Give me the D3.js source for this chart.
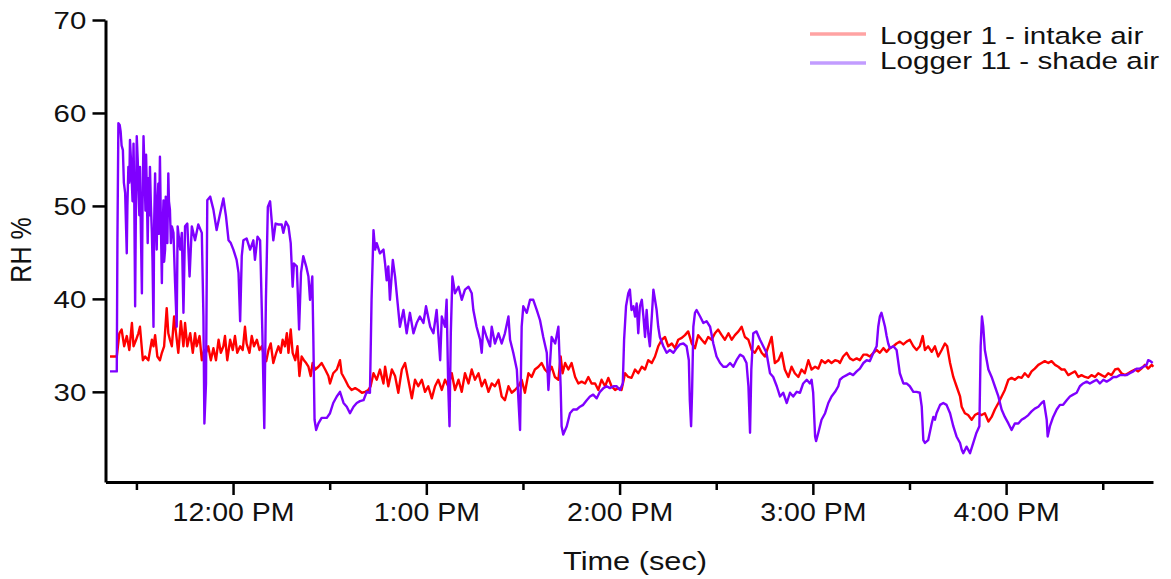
<!DOCTYPE html>
<html>
<head>
<meta charset="utf-8">
<script src="https://cdn.jsdelivr.net/npm/d3@7"></script>
<style>
body { margin: 0; background: #fff; }
text { font-family: "Liberation Sans", Arial, sans-serif; fill: #111; }
</style>
</head>
<body>
<svg id="chart" width="1171" height="579"></svg>
<script>
// [minutes after 11:00 AM, RH %]
var intakeAir = [
  [21.8,33.8],[23.9,33.8],[24.7,36.3],[25.4,36.7],[26.2,34.9],[27.0,36.0],[27.8,34.5],[28.6,37.4],[29.1,34.9],[29.9,35.6],
  [30.6,36.3],[31.1,37.0],[32.0,33.4],[32.7,33.8],[33.7,33.4],[34.8,35.6],[35.3,34.9],[35.8,36.1],[36.5,33.8],[37.3,33.4],
  [37.9,34.2],[38.6,34.9],[39.4,39.0],[39.9,36.3],[40.4,35.6],[41.0,34.9],[41.7,38.1],[42.3,36.3],[43.0,34.2],[43.8,37.6],
  [44.6,34.9],[45.1,37.4],[45.8,34.9],[46.7,36.3],[47.5,34.2],[48.2,36.3],[48.7,34.9],[49.6,36.0],[50.3,33.4],[51.0,34.5],
  [51.6,34.2],[52.3,34.9],[53.1,33.4],[53.9,34.7],[54.7,33.4],[55.5,35.6],[56.2,34.2],[57.0,34.9],[57.5,36.0],[58.2,33.4],
  [59.1,35.6],[59.9,34.5],[60.6,36.0],[61.3,34.2],[62.2,34.9],[63.0,34.5],[63.7,37.0],[64.2,35.2],[65.1,34.2],[65.8,36.0],
  [66.5,34.9],[67.4,35.6],[68.2,34.5],[68.9,34.9],[69.4,34.2],[70.3,33.3],[71.0,34.5],[71.7,35.2],[72.5,33.1],[73.4,34.2],
  [74.1,34.9],[74.8,34.2],[75.4,35.6],[76.1,34.9],[76.7,36.3],[77.2,34.2],[77.9,36.7],[78.5,34.2],[79.3,33.4],[80.0,34.9],
  [80.6,31.7],[81.3,33.8],[82.0,33.4],[82.7,33.1],[83.4,32.7],[84.1,31.7],[84.7,33.1],[85.5,32.4],[86.5,32.7],[87.5,33.1],
  [88.6,32.4],[89.6,31.7],[90.1,30.9],[91.1,32.0],[92.2,32.4],[93.2,33.4],[93.7,32.0],[94.8,31.3],[95.8,30.6],[96.8,30.2],
  [97.9,30.4],[98.9,30.2],[100.0,29.9],[101.0,30.0],[102.0,30.2],[102.7,30.6],[103.6,32.0],[104.6,31.3],[105.6,32.4],[106.7,30.9],
  [107.2,32.7],[108.2,30.6],[109.3,32.4],[110.3,31.7],[111.3,29.9],[112.4,32.4],[113.4,33.1],[114.4,31.3],[115.5,29.3],[116.5,31.3],
  [117.5,30.6],[118.6,31.3],[119.6,30.0],[120.6,30.6],[121.7,29.3],[122.7,30.6],[123.7,31.3],[124.8,30.2],[125.8,31.3],[126.8,30.6],
  [127.9,32.0],[128.9,30.2],[130.0,31.3],[131.0,30.0],[132.0,32.0],[133.1,30.9],[134.1,32.4],[135.1,31.3],[136.2,32.0],[137.2,30.6],
  [138.2,31.3],[139.3,30.0],[140.3,30.9],[141.3,30.6],[142.4,31.3],[143.4,29.5],[144.4,29.1],[145.5,30.6],[146.5,29.9],[147.5,30.2],
  [148.6,30.6],[149.6,31.3],[150.6,29.9],[151.7,32.0],[152.7,31.6],[153.7,32.4],[154.8,32.7],[155.8,33.1],[156.8,32.4],[157.9,32.0],
  [158.9,32.7],[159.9,31.6],[161.0,31.3],[161.7,33.8],[162.3,32.0],[163.1,33.1],[164.1,32.4],[165.1,33.1],[166.2,31.6],[167.2,30.9],
  [168.2,31.1],[169.3,30.9],[170.3,31.6],[171.3,30.9],[172.4,30.9],[173.4,30.2],[174.4,31.3],[175.5,30.6],[176.5,31.5],[177.5,30.6],
  [178.6,30.2],[179.6,30.4],[180.6,30.2],[181.7,32.0],[182.7,31.6],[183.7,31.5],[184.8,32.4],[185.8,32.0],[186.9,32.7],[187.9,32.4],
  [188.9,33.4],[190.0,33.1],[191.0,33.8],[192.0,34.9],[193.1,35.6],[194.1,35.9],[195.1,34.9],[196.2,35.2],[197.2,34.7],[198.2,35.6],
  [199.3,35.8],[200.3,36.1],[201.3,36.5],[202.4,35.2],[203.4,34.7],[204.4,36.1],[205.5,35.6],[206.5,35.2],[207.5,35.9],[208.6,35.6],
  [209.6,36.3],[210.6,36.7],[211.7,36.1],[212.7,35.6],[213.8,36.3],[214.8,35.6],[215.8,36.1],[216.9,36.5],[217.9,37.0],[218.9,35.9],
  [220.0,35.6],[221.0,34.5],[222.0,34.2],[223.1,34.9],[224.1,34.2],[225.1,33.8],[226.2,34.9],[227.2,35.9],[228.2,33.1],[229.3,33.4],
  [230.3,34.2],[231.3,32.4],[232.4,31.6],[233.4,32.7],[234.4,32.0],[235.5,31.6],[236.5,32.4],[237.5,32.0],[238.6,33.4],[239.6,32.4],
  [240.7,32.7],[241.7,32.5],[242.7,33.4],[243.8,33.1],[244.8,33.4],[245.8,33.1],[246.9,33.4],[247.9,33.3],[248.4,33.1],[249.4,33.8],
  [250.5,34.2],[251.5,33.6],[252.5,33.4],[253.6,33.6],[254.6,33.4],[255.7,34.0],[256.7,34.0],[257.7,33.8],[258.8,34.2],[259.8,34.5],
  [260.8,34.2],[261.9,34.7],[262.9,34.3],[263.9,34.7],[265.0,34.9],[266.0,35.2],[267.0,35.4],[268.1,35.1],[269.1,35.4],[270.1,35.6],
  [271.2,34.9],[272.2,34.5],[273.2,34.9],[274.1,36.0],[274.8,34.5],[275.8,34.9],[276.9,34.3],[277.9,34.9],[278.9,33.8],[280.0,34.5],
  [281.0,35.2],[281.7,34.9],[282.6,33.1],[283.6,31.6],[284.6,30.6],[285.7,29.5],[286.2,28.4],[287.2,27.7],[288.2,27.5],[289.3,27.0],
  [290.3,27.5],[291.3,27.7],[292.4,27.5],[293.4,27.7],[294.5,26.8],[295.5,27.3],[296.5,28.1],[297.6,28.8],[298.6,29.5],[299.6,30.2],
  [300.7,31.3],[301.7,31.5],[302.7,31.3],[303.8,31.6],[304.8,31.5],[305.8,32.0],[306.9,31.6],[307.9,32.2],[308.9,32.5],[310.0,32.9],
  [311.0,33.1],[312.0,33.3],[313.1,33.1],[314.1,33.3],[315.2,32.9],[316.2,32.7],[317.2,32.4],[318.2,32.4],[319.3,31.8],[320.3,32.0],
  [321.4,32.2],[322.4,31.6],[323.4,31.8],[324.5,31.6],[325.5,31.5],[326.5,31.8],[327.6,31.6],[328.6,32.0],[329.6,31.8],[330.7,31.6],
  [331.7,32.0],[332.7,31.8],[333.8,32.4],[334.8,32.5],[335.8,32.0],[336.9,31.8],[337.9,32.0],[338.9,32.2],[340.0,32.4],[341.0,32.2],
  [342.0,32.5],[343.1,32.9],[344.1,32.5],[345.2,32.9],[345.7,32.7]
];

var shadeAir = [
  [21.8,32.2],[23.9,32.2],[24.1,46.3],[24.4,58.9],[24.8,58.7],[25.1,58.0],[25.4,56.5],[25.8,56.0],[26.1,52.5],[26.5,51.4],
  [26.8,47.5],[27.0,44.9],[27.2,50.0],[27.5,54.2],[27.8,52.5],[28.0,57.1],[28.3,55.0],[28.5,53.2],[28.8,50.5],[29.1,56.7],
  [29.3,52.0],[29.6,39.2],[29.8,48.0],[30.1,57.5],[30.4,55.0],[30.6,52.4],[30.9,49.0],[31.1,54.2],[31.4,47.0],[31.7,40.6],
  [31.9,50.0],[32.2,57.5],[32.5,54.0],[32.8,49.5],[33.0,55.5],[33.2,52.1],[33.5,46.0],[33.8,53.0],[34.0,49.0],[34.2,54.2],
  [34.5,50.0],[34.8,47.1],[35.0,44.0],[35.3,37.0],[35.5,48.0],[35.8,53.5],[36.0,48.5],[36.3,45.3],[36.5,50.0],[36.8,52.4],
  [37.0,47.0],[37.3,55.3],[37.6,48.0],[37.9,41.7],[38.1,47.0],[38.4,50.6],[38.6,44.0],[38.9,45.3],[39.1,51.0],[39.4,49.6],
  [39.6,46.0],[39.9,53.5],[40.1,50.5],[40.4,49.6],[40.7,46.0],[41.0,47.8],[41.5,47.1],[42.0,41.7],[42.5,37.0],[42.8,47.8],
  [43.6,45.3],[44.1,47.1],[44.6,38.5],[45.1,47.8],[45.8,48.1],[46.5,42.4],[47.2,47.8],[48.2,46.3],[49.2,48.0],[50.3,47.1],
  [50.8,38.1],[51.1,26.6],[51.6,30.9],[52.0,50.6],[52.9,51.0],[53.9,49.6],[54.9,47.4],[55.8,48.9],[57.0,50.8],[57.8,48.9],
  [58.6,46.3],[59.3,46.0],[60.1,45.3],[61.1,44.2],[61.7,42.8],[62.2,37.6],[62.7,44.6],[63.2,46.3],[64.2,46.5],[65.3,45.3],
  [66.3,46.3],[66.8,44.2],[67.6,46.7],[68.4,46.3],[69.1,36.3],[69.7,26.1],[70.2,39.9],[70.8,49.9],[71.5,50.5],[72.5,46.3],
  [73.2,48.1],[74.1,48.0],[75.1,48.0],[75.6,47.1],[76.4,48.3],[77.2,47.8],[77.9,46.0],[78.5,41.3],[78.9,43.8],[79.8,43.5],
  [80.5,36.7],[81.1,42.8],[81.8,44.6],[82.7,43.5],[83.4,42.4],[83.9,39.9],[84.6,42.4],[84.9,36.3],[85.3,27.0],[85.8,25.9],
  [86.5,26.6],[87.5,27.2],[89.1,27.2],[90.1,27.7],[91.1,28.8],[92.2,29.5],[93.2,30.0],[94.3,28.8],[95.3,28.4],[96.3,27.7],
  [97.4,28.4],[98.4,28.8],[99.4,29.0],[100.5,29.1],[101.5,30.0],[102.5,29.9],[103.0,39.9],[103.6,47.4],[104.1,45.3],[104.6,46.0],
  [105.6,44.9],[106.7,45.3],[107.2,43.8],[107.7,42.0],[108.2,43.5],[108.7,39.9],[109.6,44.2],[110.3,42.4],[111.3,38.8],[111.8,37.0],
  [112.9,38.8],[113.9,36.3],[114.9,38.5],[116.0,36.3],[117.0,37.4],[118.0,38.1],[119.1,37.4],[119.9,39.2],[121.2,37.0],[122.2,36.3],
  [123.2,38.8],[124.3,33.4],[124.8,38.1],[125.8,37.0],[126.3,39.9],[126.8,30.6],[127.2,26.3],[127.6,36.3],[128.1,42.4],[128.9,40.6],
  [130.0,41.3],[131.0,39.9],[132.0,41.0],[133.1,41.3],[134.1,40.6],[134.6,38.8],[135.6,37.0],[136.7,35.6],[137.2,34.2],[137.7,37.0],
  [138.7,35.9],[139.8,34.9],[140.3,37.0],[141.3,35.2],[142.4,36.3],[143.4,35.2],[144.4,36.3],[145.5,38.1],[146.0,35.6],[147.0,34.2],
  [148.1,32.4],[148.6,29.1],[149.1,25.9],[149.6,37.0],[150.1,39.2],[151.2,38.5],[152.2,39.9],[153.2,39.9],[154.3,38.8],[155.3,37.7],
  [156.3,35.9],[157.4,34.2],[157.9,30.2],[158.9,35.9],[160.0,35.2],[161.0,37.0],[161.7,30.6],[162.0,26.3],[162.5,25.4],[163.6,26.3],
  [164.6,27.7],[165.6,28.1],[166.7,28.1],[167.7,28.4],[168.7,28.6],[169.8,29.1],[170.8,29.5],[171.8,29.7],[172.9,29.3],[173.9,30.0],
  [175.0,30.4],[176.0,30.6],[177.0,30.4],[178.1,30.6],[179.1,30.6],[180.1,30.2],[181.0,30.9],[181.4,35.6],[182.0,39.2],[182.7,40.6],
  [183.2,41.0],[183.7,38.8],[184.3,39.2],[184.8,38.1],[185.3,39.5],[185.8,36.3],[186.3,39.2],[186.9,39.9],[187.4,38.1],[187.9,35.9],
  [188.4,38.8],[188.9,36.3],[189.4,34.9],[190.0,38.1],[190.5,41.0],[191.0,39.9],[191.5,38.8],[192.0,37.0],[192.5,35.9],[193.6,34.9],
  [194.6,34.2],[195.6,34.5],[196.7,34.2],[197.7,34.7],[198.7,35.1],[199.8,35.2],[200.8,34.9],[201.5,33.4],[201.8,29.1],[202.2,26.3],
  [202.5,29.9],[202.9,37.0],[203.4,38.5],[203.9,38.8],[205.0,38.1],[206.0,37.4],[207.0,37.6],[208.1,37.0],[209.1,35.2],[210.1,33.8],
  [211.2,33.1],[212.2,32.7],[213.2,32.7],[214.3,33.1],[215.3,32.7],[216.3,33.4],[217.4,34.0],[218.4,33.8],[219.4,33.1],[220.0,30.6],
  [220.5,25.6],[220.9,32.4],[221.5,36.3],[222.5,36.5],[223.6,35.6],[224.6,34.9],[225.6,34.2],[226.7,32.0],[227.7,31.6],[228.8,30.6],
  [229.8,29.5],[230.8,29.9],[231.9,28.8],[232.9,29.9],[233.9,29.5],[235.0,30.0],[236.0,29.9],[237.0,30.9],[238.1,31.3],[239.1,30.9],
  [239.6,31.3],[240.1,29.9],[240.7,25.2],[241.0,24.7],[241.7,25.6],[242.7,27.0],[243.8,27.7],[244.8,28.8],[245.8,29.5],[246.9,30.0],
  [247.9,30.6],[248.4,31.3],[249.4,31.6],[250.5,31.8],[251.5,32.0],[252.5,31.8],[253.6,32.2],[254.6,32.5],[255.7,33.1],[256.7,33.4],
  [257.7,33.3],[258.8,34.2],[259.8,34.9],[260.3,37.0],[260.8,38.1],[261.3,38.5],[261.9,37.7],[262.4,37.0],[262.9,36.0],[263.4,35.2],
  [263.9,34.7],[265.0,34.9],[266.0,34.5],[267.0,32.0],[268.1,30.9],[269.1,30.9],[270.1,30.6],[271.2,30.0],[272.2,30.0],[273.2,29.9],
  [273.8,28.4],[274.3,24.8],[274.8,24.5],[275.8,24.8],[276.9,26.6],[277.4,27.3],[277.9,27.0],[278.4,27.7],[279.5,28.6],[280.5,28.8],
  [281.5,28.6],[282.6,27.7],[283.6,26.3],[284.6,25.2],[285.7,24.5],[286.2,23.8],[286.7,23.4],[287.7,24.1],[288.8,23.4],[289.8,24.5],
  [290.8,25.6],[291.7,26.3],[292.1,34.9],[292.5,38.1],[292.9,37.0],[293.4,34.5],[294.5,32.4],[295.5,31.6],[296.5,30.6],[297.6,29.5],
  [298.6,28.1],[299.6,27.3],[300.7,26.6],[301.7,25.9],[302.7,26.6],[303.8,26.6],[304.8,27.0],[305.8,27.2],[306.9,27.5],[307.9,27.9],
  [308.9,28.2],[310.0,28.4],[311.0,28.8],[311.7,29.0],[312.6,27.0],[312.9,25.2],[313.6,26.3],[314.6,27.3],[315.7,28.1],[316.7,28.6],
  [317.7,28.6],[318.8,29.1],[319.8,29.5],[320.8,29.7],[321.9,29.9],[322.9,30.6],[323.9,30.9],[325.0,31.1],[326.0,30.9],[327.0,31.1],
  [328.1,31.3],[329.1,30.9],[330.2,31.3],[331.2,31.1],[332.2,31.3],[333.3,31.6],[334.3,31.6],[335.3,31.8],[336.4,31.8],[337.4,31.8],
  [338.4,32.0],[339.5,32.2],[340.5,32.5],[341.5,32.5],[342.6,32.7],[343.6,32.9],[344.1,33.4],[344.8,33.3],[345.5,33.1]
];

var seriesNames = ["Logger 1 - intake air", "Logger 11 - shade air"];
var rhTicks = [30, 40, 50, 60, 70];

// minutes after 11:00 -> Date
function at(m) {
    return new Date(2020, 0, 1, 11, 0, 0, Math.round(m * 60000));
}

var svg = d3.select("#chart");

var x = d3.scaleTime()
    .domain([at(20.4), at(345.6)])
    .range([105.5, 1153]);

var y = d3.scaleLinear()
    .domain([20.3, 70])
    .range([482, 20]);

var line = d3.line()
    .x(function(d) { return x(at(d[0])); })
    .y(function(d) { return y(d[1]); });

svg.append("path")
    .datum(intakeAir)
    .attr("d", line)
    .attr("fill", "none")
    .attr("stroke", "#ff0000")
    .attr("stroke-width", 2.4)
    .attr("stroke-linejoin", "round");

svg.append("path")
    .datum(shadeAir)
    .attr("d", line)
    .attr("fill", "none")
    .attr("stroke", "#7f00ff")
    .attr("stroke-width", 2.4)
    .attr("stroke-linejoin", "round");

// y axis
var yAxis = svg.append("g")
    .attr("transform", "translate(105.5,0)")
    .call(d3.axisLeft(y).tickValues(rhTicks).tickSize(13).tickSizeOuter(0));
yAxis.select(".domain").attr("stroke-width", 3).attr("stroke", "#000");
yAxis.selectAll(".tick line").attr("stroke-width", 2.5).attr("stroke", "#000");
yAxis.selectAll(".tick text")
    .attr("x", -16)
    .attr("dy", "0.36em")
    .attr("transform", "scale(1.2,1)")
    .style("font-size", "24.5px")
    .style("font-family", "'Liberation Sans', Arial, sans-serif")
    .attr("fill", "#111");

// x axis, a tick every half hour, labels on the hour
var fmt = d3.timeFormat("%-I:%M %p");
var xAxis = svg.append("g")
    .attr("transform", "translate(0,482)")
    .call(d3.axisBottom(x).ticks(d3.timeMinute.every(30)).tickSizeOuter(0).tickFormat(fmt));
xAxis.select(".domain").attr("stroke-width", 3).attr("stroke", "#000");
xAxis.selectAll(".tick line")
    .attr("stroke-width", 2.5)
    .attr("stroke", "#000")
    .attr("y2", function(d) { return d.getMinutes() === 0 ? 13 : 8; });
xAxis.selectAll(".tick text")
    .text(function(d) { return d.getMinutes() === 0 ? fmt(d) : ""; })
    .attr("y", 39)
    .attr("dy", 0)
    .attr("transform", "scale(1.14,1)")
    .style("font-size", "25px")
    .style("font-family", "'Liberation Sans', Arial, sans-serif")
    .attr("fill", "#111");

// axis titles
svg.append("text")
    .attr("transform", "translate(635,570) scale(1.23,1)")
    .attr("text-anchor", "middle")
    .style("font-size", "25px")
    .text("Time (sec)");

svg.append("text")
    .attr("transform", "translate(31,250) scale(1.15,1) rotate(-90)")
    .attr("text-anchor", "middle")
    .style("font-size", "25px")
    .text("RH %");

// legend
var legendColors = ["#ffa3a3", "#c29cff"];
var legend = svg.selectAll(".legend")
    .data(seriesNames)
  .enter().append("g")
    .attr("class", "legend");

legend.append("line")
    .attr("x1", 810)
    .attr("x2", 866)
    .attr("y1", function(d, i) { return 34 + i * 29; })
    .attr("y2", function(d, i) { return 34 + i * 29; })
    .attr("stroke", function(d, i) { return legendColors[i]; })
    .attr("stroke-width", 3.5);

legend.append("text")
    .attr("transform", function(d, i) { return "translate(880," + (43.5 + i * 25.5) + ") scale(1.26,1)"; })
    .style("font-size", "23.5px")
    .text(function(d) { return d; });
</script>
</body>
</html>
